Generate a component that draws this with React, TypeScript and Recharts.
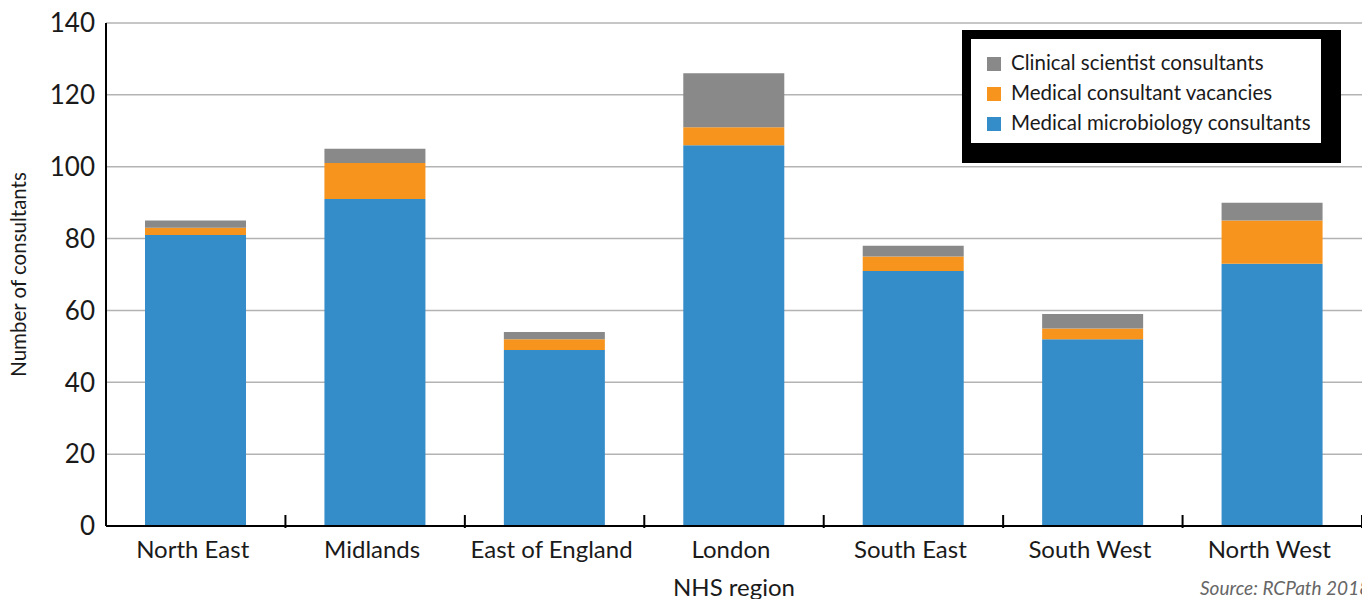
import React from 'react';
import {Bar, BarChart, CartesianGrid, XAxis, YAxis} from "recharts";

const regions = ['North East', 'Midlands', 'East of England', 'London', 'South East', 'South West', 'North West'];
const microbiology = [81, 91, 49, 106, 71, 52, 73];
const vacancies = [2, 10, 3, 5, 4, 3, 12];
const clinicalScientists = [2, 4, 2, 15, 3, 4, 5];
const yTicks = [0, 20, 40, 60, 80, 100, 120, 140];

const BLUE = '#348cc8';
const ORANGE = '#f7941d';
const GREY = '#898989';
const FONT = 'Lato, "Open Sans", sans-serif';

const data = regions.map((region, i) => ({
    region,
    micro: microbiology[i],
    vac: vacancies[i],
    clin: clinicalScientists[i],
}));

const legendItems = [
    {label: 'Clinical scientist consultants', color: GREY},
    {label: 'Medical consultant vacancies', color: ORANGE},
    {label: 'Medical microbiology consultants', color: BLUE},
];

const BAND = (1362 - 106) / regions.length;

const RegionTick = (props) => {
    const {x, y, payload} = props;
    return (
        <g>
            <text x={x - 3} y={y + 20} textAnchor="middle" dominantBaseline="central"
                  fontSize={24} fill="#1a1a1a" fontFamily={FONT}>
                {payload.value}
            </text>
            <line x1={x + BAND / 2} x2={x + BAND / 2} y1={y} y2={y - 13} stroke="#000" strokeWidth={2}/>
        </g>
    );
};

const LegendBox = () => (
    <div style={{
        position: 'absolute',
        left: 962,
        top: 30,
        background: '#fff',
        borderStyle: 'solid',
        borderColor: '#000',
        borderWidth: '9px 20px 20px 9px',
        width: 350,
        height: 96,
        boxSizing: 'content-box',
        fontFamily: FONT,
        fontSize: 20.5,
        color: '#1a1a1a',
        paddingTop: 8,
    }}>
        {legendItems.map((item) => (
            <div key={item.label} style={{display: 'flex', alignItems: 'center', height: 30, paddingLeft: 16}}>
                <span style={{width: 14, height: 14, background: item.color, marginRight: 10, marginTop: 3}}/>
                <span>{item.label}</span>
            </div>
        ))}
    </div>
);

export default function App() {
    return (
        <div style={{position: 'absolute', left: 0, top: 0, width: 1362, height: 599, background: '#fff', overflow: 'hidden'}}>
            <BarChart width={1362} height={599} data={data}
                      margin={{top: 23, right: 0, left: 0, bottom: 0}} barSize={101}>
                <CartesianGrid vertical={false} stroke="#b3b3b3" strokeWidth={1.5}/>
                <XAxis dataKey="region" height={73} tickLine={false} tickSize={0}
                       axisLine={{stroke: '#000', strokeWidth: 2}} tick={RegionTick} interval={0}
                       label={{
                           content: ({viewBox}) => (
                               <text x={viewBox.x + viewBox.width / 2} y={viewBox.y + 60} textAnchor="middle"
                                     dominantBaseline="central" fontSize={24} fill="#1a1a1a" fontFamily={FONT}>
                                   NHS region
                               </text>
                           )
                       }}/>
                <YAxis width={106} domain={[0, 140]} ticks={yTicks} tickLine={false} tickSize={0} tickMargin={11}
                       axisLine={{stroke: '#000', strokeWidth: 2}}
                       tick={{fontSize: 26, fill: '#1a1a1a', fontFamily: FONT}}
                       label={{
                           content: ({viewBox}) => {
                               const cx = viewBox.x + 18;
                               const cy = viewBox.y + viewBox.height / 2;
                               return (
                                   <text x={cx} y={cy} transform={`rotate(-90 ${cx} ${cy})`} textAnchor="middle"
                                         dominantBaseline="central" fontSize={20.5} fill="#1a1a1a" fontFamily={FONT}>
                                       Number of consultants
                                   </text>
                               );
                           }
                       }}/>
                <Bar dataKey="micro" stackId="a" fill={BLUE} isAnimationActive={false}/>
                <Bar dataKey="vac" stackId="a" fill={ORANGE} isAnimationActive={false}/>
                <Bar dataKey="clin" stackId="a" fill={GREY} isAnimationActive={false}/>
            </BarChart>
            <LegendBox/>
            <div style={{position: 'absolute', left: 1200, top: 576, fontFamily: FONT, fontStyle: 'italic',
                fontSize: 19, color: '#666', whiteSpace: 'nowrap'}}>
                Source: RCPath 2018
            </div>
        </div>
    );
}
